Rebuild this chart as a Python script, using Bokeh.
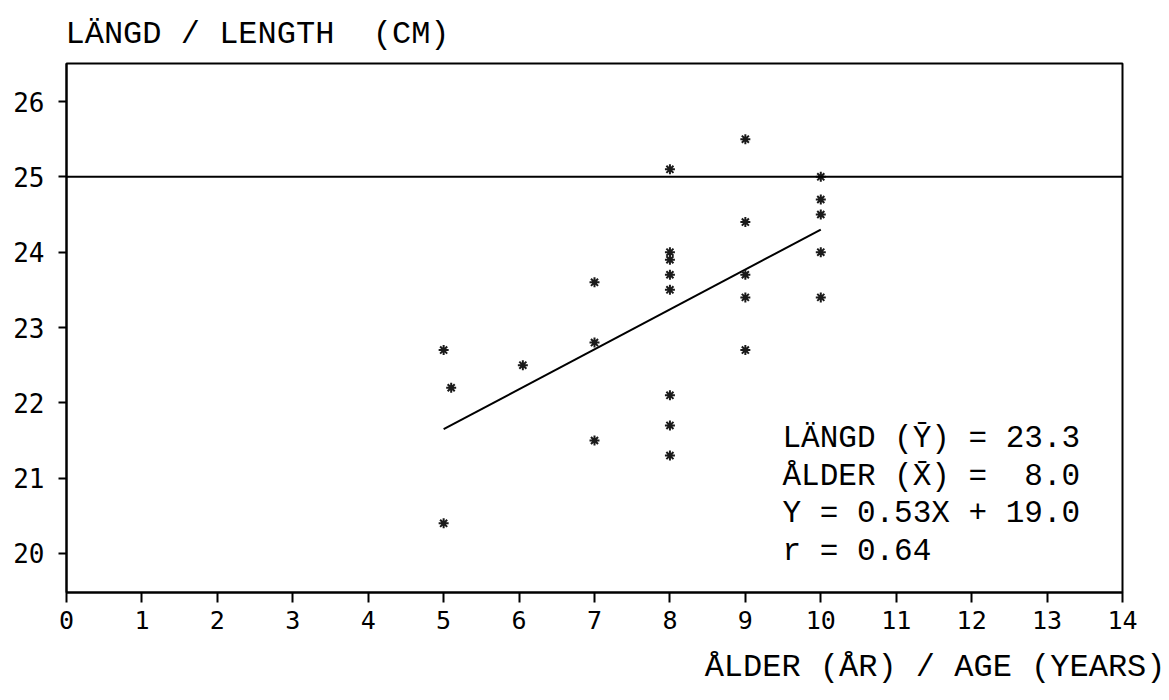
from bokeh.plotting import figure
from bokeh.models import Span, Label, FixedTicker, ColumnDataSource, Title
from bokeh.embed import file_html
from bokeh.resources import INLINE

# ---- data ----
age = [5, 5, 5.1, 6.05,
       7, 7, 7,
       8, 8, 8, 8, 8, 8, 8, 8,
       9, 9, 9, 9, 9,
       10, 10, 10, 10, 10]
length = [22.7, 20.4, 22.2, 22.5,
          23.6, 22.8, 21.5,
          25.1, 24.0, 23.9, 23.7, 23.5, 22.1, 21.7, 21.3,
          25.5, 24.4, 23.7, 23.4, 22.7,
          25.0, 24.7, 24.5, 24.0, 23.4]
x_ticks = list(range(0, 15))
y_ticks = list(range(20, 27))
reference_length = 25
mean_length = 23.3
mean_age = 8.0
slope = 0.53
intercept = 19.0
r_value = 0.64

MONO = "Liberation Mono"
NB = "\u00a0"

p = figure(width=1169, height=700, output_backend="svg", toolbar_location=None,
           x_range=(0, 14), y_range=(19.482, 26.505),
           min_border_left=66, min_border_right=47, min_border_top=63, min_border_bottom=108)
p.background_fill_color = "white"
p.border_fill_color = "white"
p.outline_line_color = "black"
p.outline_line_width = 2
p.grid.visible = False

for ax in (p.xaxis[0], p.yaxis[0]):
    ax.axis_line_color = "black"
    ax.axis_line_width = 2
    ax.major_tick_line_color = "black"
    ax.major_tick_line_width = 2
    ax.minor_tick_line_color = None
    ax.major_tick_in = 0
    ax.major_label_text_font = "DejaVu Sans Mono"
    ax.major_label_text_color = "black"

p.xaxis.ticker = FixedTicker(ticks=x_ticks)
p.yaxis.ticker = FixedTicker(ticks=y_ticks)
p.xaxis.major_tick_out = 10
p.yaxis.major_tick_out = 8
p.xaxis.major_label_standoff = 8
p.yaxis.major_label_standoff = 14
p.xaxis.major_label_text_font_size = "25px"
p.yaxis.major_label_text_font_size = "26px"

# reference line at 25 cm
p.add_layout(Span(location=reference_length, dimension="width", line_color="black", line_width=2))

# regression line over the data's age span
x0, x1 = 5, max(age)
p.line([x0, x1], [slope * x0 + intercept, slope * x1 + intercept], line_color="black", line_width=2)

src = ColumnDataSource(dict(age=age, length=length))
p.scatter("age", "length", source=src, marker="asterisk", size=10,
          line_color="#1a1a1a", line_width=2)

# statistics block
stats = [
    f"LÄNGD{NB}(\u0232){NB}={NB}{mean_length:.1f}",
    f"ÅLDER{NB}(X\u0304){NB}={NB}{NB}{mean_age:.1f}",
    f"Y{NB}={NB}{slope:.2f}X{NB}+{NB}{intercept:.1f}",
    f"r{NB}={NB}{r_value:.2f}",
]
for i, s in enumerate(stats):
    p.add_layout(Label(x=716, y=154 - i * 37.7, x_units="screen", y_units="screen",
                       text=s, text_font=MONO, text_font_size="31px",
                       text_color="black", text_baseline="alphabetic"))

# axis titles
p.add_layout(Title(text=f"LÄNGD{NB}/{NB}LENGTH{NB}{NB}(CM)", align="left", offset=-1,
                   text_font=MONO, text_font_size="32px", text_font_style="normal",
                   text_color="black", standoff=18, vertical_align="top"), "above")
p.add_layout(Title(text=f"ÅLDER{NB}(ÅR){NB}/{NB}AGE{NB}(YEARS)", align="right", offset=-43,
                   text_font=MONO, text_font_size="32px", text_font_style="normal",
                   text_color="black", standoff=30), "below")

open("out.html", "w").write(file_html(p, INLINE))
